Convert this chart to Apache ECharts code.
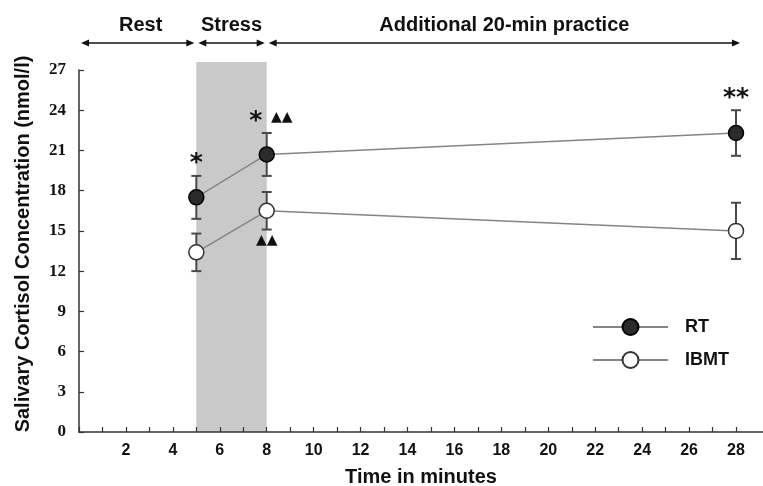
<!DOCTYPE html>
<html><head><meta charset="utf-8">
<script src="https://cdn.jsdelivr.net/npm/echarts@6/dist/echarts.min.js"></script>
<style>html,body{margin:0;padding:0;background:#fff}#c{width:763px;height:486px}</style>
</head><body><div id="c"></div>
<script>
// ---- data ----
const timePoints = [5, 8, 28];
const rtMean = [17.5, 20.7, 22.3];
const rtErr = [1.6, 1.6, 1.7];
const ibmtMean = [13.4, 16.5, 15.0];
const ibmtErr = [1.4, 1.4, 2.1];
const xTickValues = [0,1,2,3,4,5,6,7,8,9,10,11,12,13,14,15,16,17,18,19,20,21,22,23,24,25,26,27,28];
const xLabelValues = [2,4,6,8,10,12,14,16,18,20,22,24,26,28];
const yTickValues = [0,3,6,9,12,15,18,21,24,27];
const phaseNames = ['Rest', 'Stress', 'Additional 20-min practice'];
const phaseBounds = [0, 5, 8, 28];
const stressBand = [5, 8];
const rtSigAbove = ['*', '*', '**'];
const rtSigRight = ['', '\u25B2\u25B2', ''];
const ibmtSigBelow = ['', '\u25B2\u25B2', ''];

const SANS = '"Liberation Sans", Arial, sans-serif';
const SERIF = '"Liberation Serif", "Times New Roman", serif';

const chart = echarts.init(document.getElementById('c'), null, {renderer: 'canvas'});

function errData(mean, err) {
  return timePoints.map((t, i) => [t, mean[i] - err[i], mean[i] + err[i]]);
}
function errRender(params, api) {
  const x = api.value(0);
  const lo = api.coord([x, api.value(1)]);
  const hi = api.coord([x, api.value(2)]);
  const st = {stroke: '#4a4a4a', lineWidth: 2};
  return {type: 'group', children: [
    {type: 'line', shape: {x1: hi[0], y1: hi[1], x2: lo[0], y2: lo[1]}, style: st},
    {type: 'line', shape: {x1: hi[0] - 5, y1: hi[1], x2: hi[0] + 5, y2: hi[1]}, style: st},
    {type: 'line', shape: {x1: lo[0] - 5, y1: lo[1], x2: lo[0] + 5, y2: lo[1]}, style: st}
  ]};
}

const phaseData = phaseNames.map((n, i) => [phaseBounds[i], phaseBounds[i + 1]]);

const option = {
  animation: false,
  backgroundColor: '#fff',
  grid: {left: 79, right: 0, top: 70, bottom: 54, containLabel: false, outerBoundsMode: 'none'},
  xAxis: {
    type: 'value', min: 0, max: 29.15,
    name: 'Time in minutes', nameLocation: 'middle', nameGap: 35,
    nameTextStyle: {fontFamily: SANS, fontWeight: 'bold', fontSize: 20, color: '#111'},
    axisLine: {show: true, lineStyle: {color: '#333', width: 1.5}},
    axisTick: {show: true, inside: true, length: 5, customValues: xTickValues, lineStyle: {color: '#333', width: 1.2}},
    axisLabel: {customValues: xLabelValues, fontFamily: SANS, fontWeight: 'bold', fontSize: 16, color: '#111', margin: 11},
    splitLine: {show: false}
  },
  yAxis: {
    type: 'value', min: 0, max: 27, interval: 3,
    name: 'Salivary Cortisol Concentration (nmol/l)', nameLocation: 'middle', nameGap: 46,
    nameTextStyle: {fontFamily: SANS, fontWeight: 'bold', fontSize: 20, color: '#111', padding: [0, 0, 0, 14]},
    axisLine: {show: true, lineStyle: {color: '#333', width: 1.5}},
    axisTick: {show: true, inside: true, length: 5, customValues: yTickValues, lineStyle: {color: '#333', width: 1.2}},
    axisLabel: {customValues: yTickValues, fontFamily: SERIF, fontWeight: 'bold', fontSize: 17, color: '#111', margin: 13},
    splitLine: {show: false}
  },
  legend: {
    orient: 'vertical', left: 587, top: 313, itemWidth: 75, itemHeight: 20, itemGap: 15,
    data: ['RT', 'IBMT'],
    textStyle: {fontFamily: SANS, fontWeight: 'bold', fontSize: 18, color: '#111', padding: [0, 0, 0, 12]}
  },
  series: [
    {
      type: 'custom', name: 'band', z: 0, silent: true,
      data: [stressBand],
      renderItem: function (params, api) {
        const a = api.coord([api.value(0), 0]);
        const b = api.coord([api.value(1), 0]);
        const top = params.coordSys.y - 8;
        return {type: 'rect', shape: {x: a[0], y: top, width: b[0] - a[0], height: a[1] - top}, style: {fill: '#c9c9c9'}};
      }
    },
    {
      type: 'custom', name: 'phases', z: 5, silent: true,
      data: phaseData,
      renderItem: function (params, api) {
        const i = params.dataIndex;
        const x1 = api.coord([api.value(0), 0])[0] + 2;
        const x2 = api.coord([api.value(1), 0])[0] - 2 + (i === phaseNames.length - 1 ? 6 : 0);
        const y = params.coordSys.y - 27;
        const ty = params.coordSys.y - 45;
        return {type: 'group', children: [
          {type: 'line', shape: {x1: x1 + 4, y1: y, x2: x2 - 4, y2: y}, style: {stroke: '#111', lineWidth: 1.5}},
          {type: 'polygon', shape: {points: [[x1, y], [x1 + 8, y - 3.5], [x1 + 8, y + 3.5]]}, style: {fill: '#111'}},
          {type: 'polygon', shape: {points: [[x2, y], [x2 - 8, y - 3.5], [x2 - 8, y + 3.5]]}, style: {fill: '#111'}},
          {type: 'text', style: {text: phaseNames[i], x: (x1 + x2) / 2 + (i === 0 ? 3 : 0), y: ty, align: 'center', verticalAlign: 'middle',
            font: 'bold 20px ' + SANS, fill: '#111'}}
        ]};
      }
    },
    {type: 'custom', name: 'rtErr', z: 2, silent: true, data: errData(rtMean, rtErr), renderItem: errRender},
    {type: 'custom', name: 'ibmtErr', z: 2, silent: true, data: errData(ibmtMean, ibmtErr), renderItem: errRender},
    {
      type: 'line', name: 'RT', z: 4,
      data: timePoints.map((t, i) => [t, rtMean[i]]),
      symbol: 'circle', symbolSize: 15, showAllSymbol: true,
      lineStyle: {color: '#858585', width: 1.5},
      itemStyle: {color: '#2b2b2b', borderColor: '#000', borderWidth: 1.5}
    },
    {
      type: 'line', name: 'IBMT', z: 4,
      data: timePoints.map((t, i) => [t, ibmtMean[i]]),
      symbol: 'circle', symbolSize: 15, showAllSymbol: true,
      lineStyle: {color: '#858585', width: 1.5},
      itemStyle: {color: '#fff', borderColor: '#333', borderWidth: 1.5}
    },
    {
      type: 'custom', name: 'sig', z: 6, silent: true,
      data: timePoints.map((t, i) => [t, rtMean[i] + rtErr[i], ibmtMean[i] - ibmtErr[i]]),
      renderItem: function (params, api) {
        const i = params.dataIndex;
        const hi = api.coord([api.value(0), api.value(1)]);
        const lo = api.coord([api.value(0), api.value(2)]);
        const kids = [];
        const shiftL = rtSigRight[i] ? -11 : 0;
        if (rtSigAbove[i]) kids.push({type: 'text', style: {text: rtSigAbove[i], x: hi[0] + shiftL, y: hi[1] - 12,
          align: 'center', verticalAlign: 'middle', font: 'bold 25px "DejaVu Sans", sans-serif', fill: '#111'}});
        if (rtSigRight[i]) kids.push({type: 'text', style: {text: rtSigRight[i], x: hi[0] + 15, y: hi[1] - 16,
          align: 'center', verticalAlign: 'middle', font: '14px "DejaVu Sans", sans-serif', fill: '#111'}});
        if (ibmtSigBelow[i]) kids.push({type: 'text', style: {text: ibmtSigBelow[i], x: lo[0], y: lo[1] + 11,
          align: 'center', verticalAlign: 'middle', font: '14px "DejaVu Sans", sans-serif', fill: '#111'}});
        return {type: 'group', children: kids};
      }
    }
  ]
};
chart.setOption(option);
</script>
</body></html>
